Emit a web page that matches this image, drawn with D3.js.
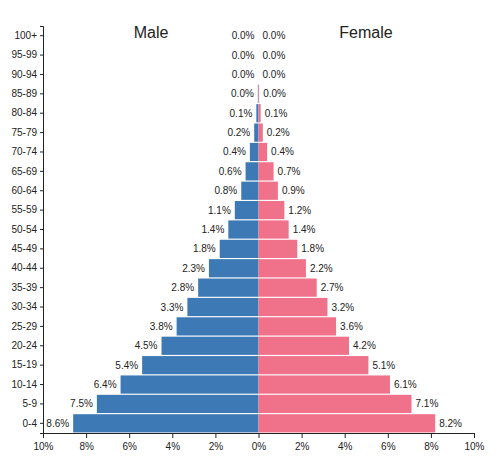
<!DOCTYPE html>
<html>
<head>
<meta charset="utf-8">
<script src="https://cdn.jsdelivr.net/npm/d3@7"></script>
<style>
  body { margin: 0; background: #fff; font-family: "Liberation Sans", Arial, sans-serif; }
  .axis text { font-size: 10px; fill: #222; }
  .axis path, .axis line { stroke: #222; }
  .val { font-size: 10px; fill: #222; }
</style>
</head>
<body>
<div id="chart"></div>
<script>
// age groups, oldest first (top of the pyramid)
var ages = ["100+", "95-99", "90-94", "85-89", "80-84", "75-79", "70-74", "65-69", "60-64",
  "55-59", "50-54", "45-49", "40-44", "35-39", "30-34", "25-29", "20-24", "15-19", "10-14", "5-9", "0-4"];
var male = [0.0, 0.0, 0.0, 0.03, 0.1, 0.2, 0.4, 0.6, 0.8, 1.1, 1.4, 1.8, 2.3, 2.8, 3.3, 3.8, 4.5, 5.4, 6.4, 7.5, 8.6];
var female = [0.0, 0.0, 0.0, 0.03, 0.1, 0.2, 0.4, 0.7, 0.9, 1.2, 1.4, 1.8, 2.2, 2.7, 3.2, 3.6, 4.2, 5.1, 6.1, 7.1, 8.2];
var xTicks = [-10, -8, -6, -4, -2, 0, 2, 4, 6, 8, 10];

var width = 499, height = 466;

var svg = d3.select("#chart").append("svg")
  .attr("width", width)
  .attr("height", height);

var x = d3.scaleLinear().domain([-10, 10]).range([43, 474]);
var y = d3.scaleBand().domain(ages).range([26, 433]).paddingInner(0.06).paddingOuter(0.03);

var rows = ages.map(function(a, i) { return { age: a, m: male[i], f: female[i] }; });

// male bars
svg.append("g").selectAll("rect")
  .data(rows).enter().append("rect")
  .attr("x", function(d) { return x(-d.m); })
  .attr("y", function(d) { return y(d.age); })
  .attr("width", function(d) { return x(0) - x(-d.m); })
  .attr("height", y.bandwidth())
  .attr("fill", "#3d7ab5");

// female bars
svg.append("g").selectAll("rect")
  .data(rows).enter().append("rect")
  .attr("x", x(0))
  .attr("y", function(d) { return y(d.age); })
  .attr("width", function(d) { return x(d.f) - x(0); })
  .attr("height", y.bandwidth())
  .attr("fill", "#f0718a");

// value labels
svg.append("g").selectAll("text")
  .data(rows).enter().append("text")
  .attr("class", "val")
  .attr("x", function(d) { return x(-d.m) - 4; })
  .attr("y", function(d) { return y(d.age) + y.bandwidth() / 2; })
  .attr("dy", "0.35em")
  .attr("text-anchor", "end")
  .text(function(d) { return d.m.toFixed(1) + "%"; });

svg.append("g").selectAll("text")
  .data(rows).enter().append("text")
  .attr("class", "val")
  .attr("x", function(d) { return x(d.f) + 4; })
  .attr("y", function(d) { return y(d.age) + y.bandwidth() / 2; })
  .attr("dy", "0.35em")
  .text(function(d) { return d.f.toFixed(1) + "%"; });

// axes
svg.append("g")
  .attr("class", "axis")
  .attr("transform", "translate(0,433)")
  .call(d3.axisBottom(x).tickValues(xTicks).tickSize(5).tickPadding(5)
    .tickFormat(function(d) { return Math.abs(d) + "%"; }));

svg.append("g")
  .attr("class", "axis")
  .attr("transform", "translate(43,0)")
  .call(d3.axisLeft(y).tickSize(3));

// titles
svg.append("text").attr("x", 151).attr("y", 38).attr("text-anchor", "middle")
  .style("font-size", "16px").style("fill", "#222").text("Male");
svg.append("text").attr("x", 366).attr("y", 38).attr("text-anchor", "middle")
  .style("font-size", "16px").style("fill", "#222").text("Female");
</script>
</body>
</html>
